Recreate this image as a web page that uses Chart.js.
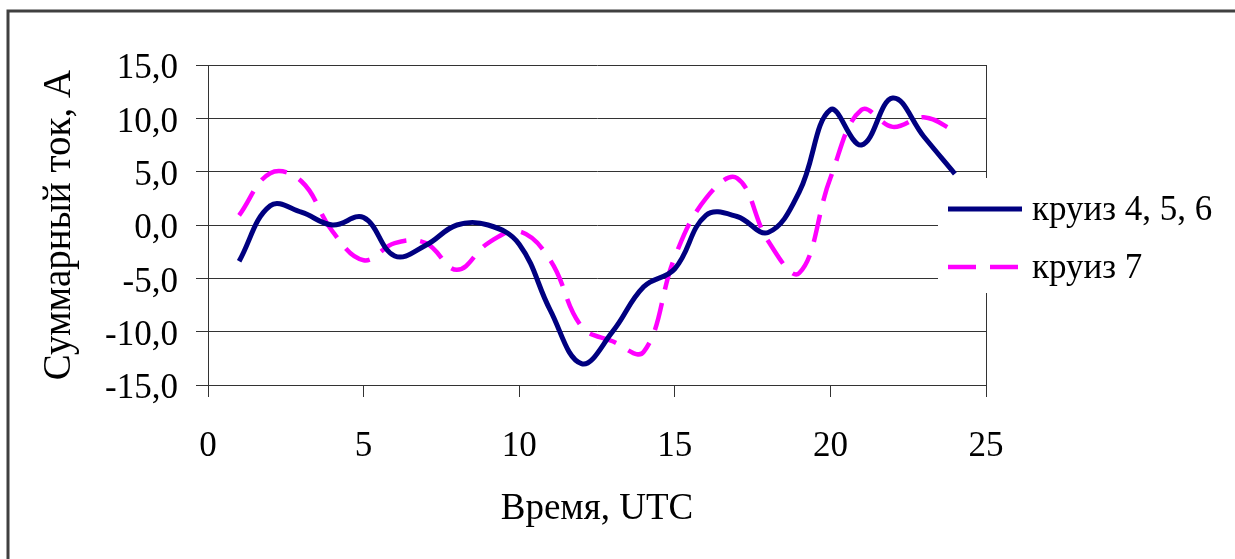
<!DOCTYPE html>
<html>
<head>
<meta charset="utf-8">
<script src="https://cdn.jsdelivr.net/npm/chart.js@4"></script>
<style>
  html, body { margin: 0; padding: 0; background: #fff; }
  canvas { display: block; }
</style>
</head>
<body>
<canvas id="tokChart" width="1235" height="559"></canvas>
<script>
// Часы (UTC) и значения суммарного тока
var hours = [1, 2, 3, 4, 5, 6, 7, 8, 9, 10, 11, 12, 13, 14, 15, 16, 17, 18, 19, 20, 21, 22, 23, 24];
var kruiz456 = [-3.4, 1.8, 1.2, 0.0, 0.7, -2.9, -1.9, 0.0, 0.0, -1.8, -8.0, -13.0, -10.0, -5.8, -4.1, 0.9, 0.8, -0.7, 3.1, 10.8, 7.5, 11.9, 8.3, 4.8];
var kruiz7 = [0.9, 4.85, 4.1, -0.6, -3.3, -1.7, -1.7, -4.2, -1.7, -0.6, -3.3, -9.5, -10.9, -11.9, -3.0, 2.5, 4.4, -1.5, -4.5, 4.4, 10.8, 9.2, 10.1, 8.8];
var seriesNames = ['круиз 4, 5, 6', 'круиз 7'];
var yTicks = [-15, -10, -5, 0, 5, 10, 15];

var FONT = 'Liberation Serif';

function toPoints(xs, ys) {
    return xs.map(function (x, i) { return { x: x, y: ys[i] }; });
}

// рамка, белый фон и граница области построения
var framePlugin = {
    id: 'frame',
    beforeDraw: function (chart) {
        var ctx = chart.ctx;
        ctx.save();
        ctx.fillStyle = '#fff';
        ctx.fillRect(0, 0, chart.width, chart.height);
        ctx.strokeStyle = '#404040';
        ctx.lineWidth = 3;
        ctx.beginPath();
        ctx.moveTo(8, chart.height + 5);
        ctx.lineTo(8, 11);
        ctx.lineTo(chart.width + 5, 11);
        ctx.stroke();
        ctx.restore();
    },
    beforeDatasetsDraw: function (chart) {
        var a = chart.chartArea, ctx = chart.ctx;
        ctx.save();
        ctx.strokeStyle = '#333';
        ctx.lineWidth = 1;
        ctx.beginPath();
        ctx.moveTo(Math.round(a.right) + 0.5, a.top);
        ctx.lineTo(Math.round(a.right) + 0.5, a.bottom);
        ctx.stroke();
        ctx.restore();
    }
};

// легенда поверх области построения, как в исходной диаграмме
var legendPlugin = {
    id: 'ownLegend',
    afterDraw: function (chart) {
        var ctx = chart.ctx;
        ctx.save();
        ctx.fillStyle = '#fff';
        ctx.fillRect(938, 178, chart.width - 938, 115);
        var rows = [209, 267];
        chart.data.datasets.forEach(function (ds, i) {
            var y = rows[i];
            ctx.strokeStyle = ds.borderColor;
            ctx.lineWidth = ds.borderWidth;
            ctx.setLineDash(ds.borderDash || []);
            ctx.beginPath();
            ctx.moveTo(948, y);
            ctx.lineTo(1022, y);
            ctx.stroke();
            ctx.setLineDash([]);
            ctx.fillStyle = '#000';
            ctx.font = '35px "' + FONT + '"';
            ctx.textBaseline = 'middle';
            ctx.textAlign = 'left';
            ctx.fillText(ds.label, 1032, y + 2);
        });
        ctx.restore();
    }
};

var ctx = document.getElementById('tokChart').getContext('2d');
var tokChart = new Chart(ctx, {
    type: 'line',
    data: {
        datasets: [{
            label: seriesNames[0],
            data: toPoints(hours, kruiz456),
            borderColor: '#000080',
            borderWidth: 5,
            pointRadius: 0,
            tension: 0.4,
            fill: false
        }, {
            label: seriesNames[1],
            data: toPoints(hours, kruiz7),
            borderColor: '#ff00ff',
            borderWidth: 4.5,
            borderDash: [28, 14],
            pointRadius: 0,
            tension: 0.4,
            fill: false
        }]
    },
    options: {
        responsive: false,
        animation: false,
        layout: { padding: { left: 0, top: 65, right: 249, bottom: 0 } },
        plugins: {
            legend: { display: false },
            tooltip: { enabled: false }
        },
        scales: {
            x: {
                type: 'linear',
                min: 0,
                max: 25,
                afterFit: function (scale) { scale.height = 174; },
                ticks: {
                    stepSize: 5,
                    color: '#000',
                    padding: 29,
                    font: { family: FONT, size: 35 }
                },
                grid: {
                    drawOnChartArea: false,
                    drawTicks: true,
                    tickLength: 12,
                    color: '#333'
                },
                border: { color: '#333' },
                title: {
                    display: true,
                    text: 'Время, UTC',
                    color: '#000',
                    font: { family: FONT, size: 37 },
                    padding: { top: 0, bottom: 28 }
                }
            },
            y: {
                min: yTicks[0],
                max: yTicks[yTicks.length - 1],
                afterFit: function (scale) { scale.width = 208; },
                afterBuildTicks: function (scale) {
                    scale.ticks = yTicks.map(function (v) { return { value: v }; });
                },
                ticks: {
                    color: '#000',
                    padding: 18,
                    labelOffset: 4,
                    font: { family: FONT, size: 35 },
                    callback: function (v) { return v.toFixed(1).replace('.', ','); }
                },
                grid: {
                    color: '#333',
                    tickLength: 12
                },
                border: { color: '#333' },
                title: {
                    display: true,
                    text: 'Суммарный ток, А',
                    color: '#000',
                    font: { family: FONT, size: 39 },
                    padding: { top: 36, bottom: 0 }
                }
            }
        }
    },
    plugins: [framePlugin, legendPlugin]
});
</script>
</body>
</html>
